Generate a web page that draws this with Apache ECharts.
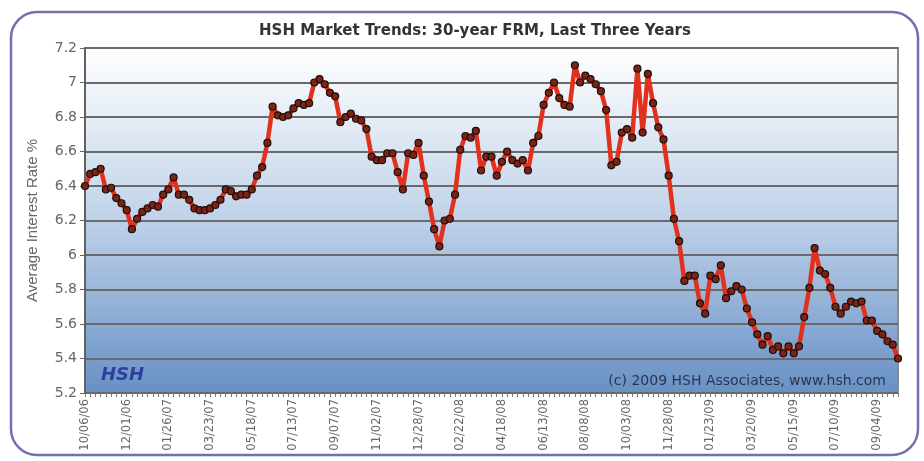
<!DOCTYPE html>
<html>
<head>
<meta charset="utf-8">
<script src="https://cdn.jsdelivr.net/npm/echarts@6/dist/echarts.min.js"></script>
<style>
html,body{margin:0;padding:0;background:#fff;}
#chart{width:924px;height:461px;}
</style>
</head>
<body>
<div id="chart"></div>
<script>
var titleText = 'HSH Market Trends: 30-year FRM, Last Three Years';
var yAxisName = 'Average Interest Rate %';
var copyrightText = '(c) 2009 HSH Associates, www.hsh.com';
var logoText = 'HSH';

var dates = [
'10/06/06','10/13/06','10/20/06','10/27/06','11/03/06','11/10/06','11/17/06','11/24/06','12/01/06','12/08/06','12/15/06','12/22/06','12/29/06',
'01/05/07','01/12/07','01/19/07','01/26/07','02/02/07','02/09/07','02/16/07','02/23/07','03/02/07','03/09/07','03/16/07','03/23/07','03/30/07',
'04/06/07','04/13/07','04/20/07','04/27/07','05/04/07','05/11/07','05/18/07','05/25/07','06/01/07','06/08/07','06/15/07','06/22/07','06/29/07',
'07/06/07','07/13/07','07/20/07','07/27/07','08/03/07','08/10/07','08/17/07','08/24/07','08/31/07','09/07/07','09/14/07','09/21/07','09/28/07',
'10/05/07','10/12/07','10/19/07','10/26/07','11/02/07','11/09/07','11/16/07','11/23/07','11/30/07','12/07/07','12/14/07','12/21/07','12/28/07',
'01/04/08','01/11/08','01/18/08','01/25/08','02/01/08','02/08/08','02/15/08','02/22/08','02/29/08','03/07/08','03/14/08','03/21/08','03/28/08',
'04/04/08','04/11/08','04/18/08','04/25/08','05/02/08','05/09/08','05/16/08','05/23/08','05/30/08','06/06/08','06/13/08','06/20/08','06/27/08',
'07/04/08','07/11/08','07/18/08','07/25/08','08/01/08','08/08/08','08/15/08','08/22/08','08/29/08','09/05/08','09/12/08','09/19/08','09/26/08',
'10/03/08','10/10/08','10/17/08','10/24/08','10/31/08','11/07/08','11/14/08','11/21/08','11/28/08','12/05/08','12/12/08','12/19/08','12/26/08',
'01/02/09','01/09/09','01/16/09','01/23/09','01/30/09','02/06/09','02/13/09','02/20/09','02/27/09','03/06/09','03/13/09','03/20/09','03/27/09',
'04/03/09','04/10/09','04/17/09','04/24/09','05/01/09','05/08/09','05/15/09','05/22/09','05/29/09','06/05/09','06/12/09','06/19/09','06/26/09',
'07/03/09','07/10/09','07/17/09','07/24/09','07/31/09','08/07/09','08/14/09','08/21/09','08/28/09','09/04/09','09/11/09','09/18/09','09/25/09',
'10/02/09'
];

var rates = [
6.40,6.47,6.48,6.50,6.38,6.39,6.33,6.30,6.26,6.15,6.21,6.25,6.27,6.29,6.28,6.35,6.38,6.45,6.35,6.35,
6.32,6.27,6.26,6.26,6.27,6.29,6.32,6.38,6.37,6.34,6.35,6.35,6.38,6.46,6.51,6.65,6.86,6.81,6.80,6.81,
6.85,6.88,6.87,6.88,7.00,7.02,6.99,6.94,6.92,6.77,6.80,6.82,6.79,6.78,6.73,6.57,6.55,6.55,6.59,6.59,
6.48,6.38,6.59,6.58,6.65,6.46,6.31,6.15,6.05,6.20,6.21,6.35,6.61,6.69,6.68,6.72,6.49,6.57,6.57,6.46,
6.54,6.60,6.55,6.53,6.55,6.49,6.65,6.69,6.87,6.94,7.00,6.91,6.87,6.86,7.10,7.00,7.04,7.02,6.99,6.95,
6.84,6.52,6.54,6.71,6.73,6.68,7.08,6.71,7.05,6.88,6.74,6.67,6.46,6.21,6.08,5.85,5.88,5.88,5.72,5.66,
5.88,5.86,5.94,5.75,5.79,5.82,5.80,5.69,5.61,5.54,5.48,5.53,5.45,5.47,5.43,5.47,5.43,5.47,5.64,5.81,
6.04,5.91,5.89,5.81,5.70,5.66,5.70,5.73,5.72,5.73,5.62,5.62,5.56,5.54,5.50,5.48,5.40
];

var yMin = 5.2, yMax = 7.2, yStep = 0.2;

var chart = echarts.init(document.getElementById('chart'), null, {renderer:'canvas'});
chart.setOption({
  animation: false,
  backgroundColor: '#ffffff',
  title: {
    text: titleText,
    left: 470, top: 19, textAlign: 'center',
    textStyle: {fontFamily: 'DejaVu Sans', fontWeight: 'bold', fontSize: 15, color: '#333333'}
  },
  graphic: [
    {type:'rect', z: -10, shape:{x:11, y:12, width:907, height:443, r:26},
     style:{fill:'none', stroke:'#6f70b5', lineWidth:2.5}},
    {type:'text', z: 100, left: 101, top: 366,
     style:{text: logoText, fill:'#2f3f9f', font:'italic bold 18px "DejaVu Sans"'}},
    {type:'text', z: 100, right: 38, top: 374,
     style:{text: copyrightText, fill:'#2b3550', font:'14px "DejaVu Sans"'}}
  ],
  grid: {
    left: 85, right: 26, top: 48, bottom: 68,
    show: true,
    borderColor: '#8a8a8a', borderWidth: 2,
    backgroundColor: {
      type:'linear', x:0, y:0, x2:0, y2:1,
      colorStops:[
        {offset:0, color:'#ffffff'},
        {offset:0.45, color:'#c6d7ec'},
        {offset:1, color:'#6790c4'}
      ]
    }
  },
  xAxis: {
    type: 'category',
    data: dates,
    boundaryGap: false,
    axisLine: {lineStyle: {color:'#666666', width:1}},
    axisTick: {show:true, interval:0, length:4, lineStyle:{color:'#777777'}},
    axisLabel: {interval:7, rotate:90, color:'#666666', fontFamily:'DejaVu Sans', fontSize:11.5, margin:6},
    splitLine: {show:false}
  },
  yAxis: {
    type: 'value',
    min: yMin, max: yMax, interval: yStep,
    name: yAxisName,
    nameLocation: 'middle',
    nameGap: 45,
    nameRotate: 90,
    nameTextStyle: {fontFamily:'Liberation Sans', fontSize:15, color:'#666666'},
    axisLine: {show:true, lineStyle:{color:'#555555', width:1.5}},
    axisTick: {show:true, length:5, lineStyle:{color:'#666666'}},
    axisLabel: {color:'#666666', fontFamily:'DejaVu Sans', fontSize:14, margin:8,
      formatter: function(v){ return String(Math.round(v*10)/10); }},
    splitLine: {show:true, lineStyle:{color:'#6a6a6a', width:2}}
  },
  series: [{
    type: 'line',
    data: rates,
    lineStyle: {color:'#e2301c', width:4.5},
    symbol: 'circle',
    symbolSize: 7,
    showAllSymbol: true,
    itemStyle: {color:'#7a2418', borderColor:'#1e0c08', borderWidth:1.2},
    z: 5
  }]
});
</script>
</body>
</html>
